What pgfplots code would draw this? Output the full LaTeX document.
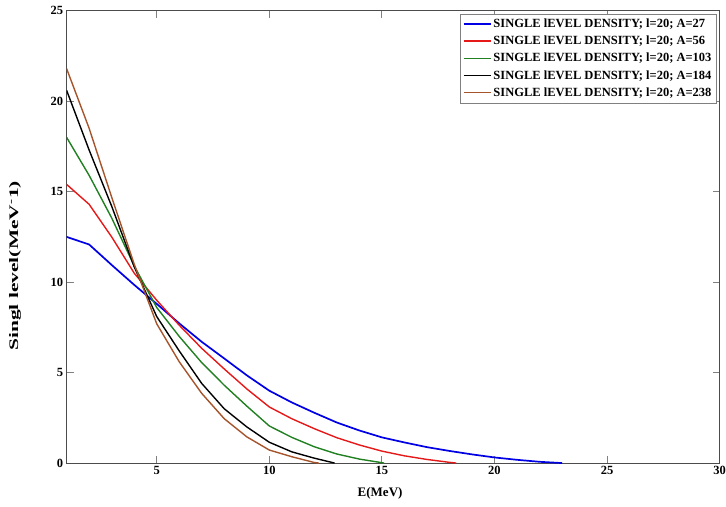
\documentclass[border=0pt]{standalone}
\usepackage{fontspec}
\setmainfont{Liberation Serif}
\usepackage{graphicx}
\usepackage{pgfplots}
\pgfplotsset{compat=1.18}
\definecolor{mblue}{rgb}{0,0,0.9}
\definecolor{mred}{rgb}{0.9,0.1,0.1}
\definecolor{mgreen}{rgb}{0.13,0.5,0.13}
\definecolor{mbrown}{rgb}{0.65,0.33,0.17}
\begin{document}
\begin{tikzpicture}
\begin{axis}[
  width=653pt, height=452.3pt, scale only axis,
  xmin=1, xmax=30, ymin=0, ymax=25,
  xtick={5,10,...,30}, ytick={0,5,...,25},
  axis line style={gray!60!black, line width=0.8pt},
  major tick length=7pt, tick style={gray, line width=0.8pt},
  ticklabel style={font=\fontsize{12.5}{14}\selectfont\bfseries},
  /pgf/number format/assume math mode=true,
  xlabel={E(MeV)},
  xlabel style={font=\fontsize{13}{15}\selectfont\bfseries, at={(axis description cs:0.48,-0.066)}, anchor=center},
  ylabel={\scalebox{1.65}[1]{Singl level(MeV\textsuperscript{-}1)}},
  ylabel style={font=\fontsize{13}{15}\selectfont\bfseries, at={(axis description cs:-0.079,0.436)}, anchor=center},
  legend style={at={(1,1)}, xshift=-3pt, yshift=-3pt, anchor=north east, draw=gray,
    font=\fontsize{12.5}{15}\selectfont\bfseries, row sep=3pt, inner sep=3pt},
  legend cell align=left,
  legend image code/.code={\draw[#1] (0pt,0pt) -- (27pt,0pt);},
  every axis plot/.append style={line width=1.4pt},
]
\addplot[mblue, line width=1.7pt] coordinates {(1,12.5)(2,12.08)(3,10.95)(4,9.85)(5,8.8)(6,7.72)(7,6.7)(8,5.78)(9,4.85)(10,4.0)(11,3.35)(12,2.78)(13,2.24)(14,1.8)(15,1.42)(16,1.14)(17,0.88)(18,0.67)(19,0.48)(20,0.31)(21,0.18)(22,0.07)(23,0)};
\addlegendentry{SINGLE lEVEL DENSITY; l=20; A=27}
\addplot[mred] coordinates {(1,15.4)(2,14.3)(3,12.5)(4,10.5)(5,9.0)(6,7.62)(7,6.34)(8,5.2)(9,4.1)(10,3.1)(11,2.45)(12,1.9)(13,1.4)(14,1.0)(15,0.66)(16,0.4)(17,0.2)(18,0.04)(18.3,0)};
\addlegendentry{SINGLE lEVEL DENSITY; l=20; A=56}
\addplot[mgreen] coordinates {(1,18.0)(2,15.9)(3,13.55)(4,10.9)(5,8.6)(6,7.0)(7,5.55)(8,4.3)(9,3.15)(10,2.05)(11,1.42)(12,0.9)(13,0.5)(14,0.22)(15,0.02)(15.1,0)};
\addlegendentry{SINGLE lEVEL DENSITY; l=20; A=103}
\addplot[black] coordinates {(1,20.6)(2,17.3)(3,14.2)(4,10.85)(5,8.1)(6,6.2)(7,4.4)(8,3.0)(9,2.0)(10,1.15)(11,0.62)(12,0.27)(12.9,0)};
\addlegendentry{SINGLE lEVEL DENSITY; l=20; A=184}
\addplot[mbrown] coordinates {(1,21.8)(2,18.5)(3,14.7)(4,11.0)(5,7.7)(6,5.6)(7,3.85)(8,2.45)(9,1.45)(10,0.72)(11,0.35)(12,0.03)(12.2,0)};
\addlegendentry{SINGLE lEVEL DENSITY; l=20; A=238}
\end{axis}
\pgfresetboundingbox
\path[use as bounding box] ([xshift=-66.6pt,yshift=-43pt]current axis.south west) rectangle ([xshift=6.3pt,yshift=10.7pt]current axis.north east);
\end{tikzpicture}
\end{document}
